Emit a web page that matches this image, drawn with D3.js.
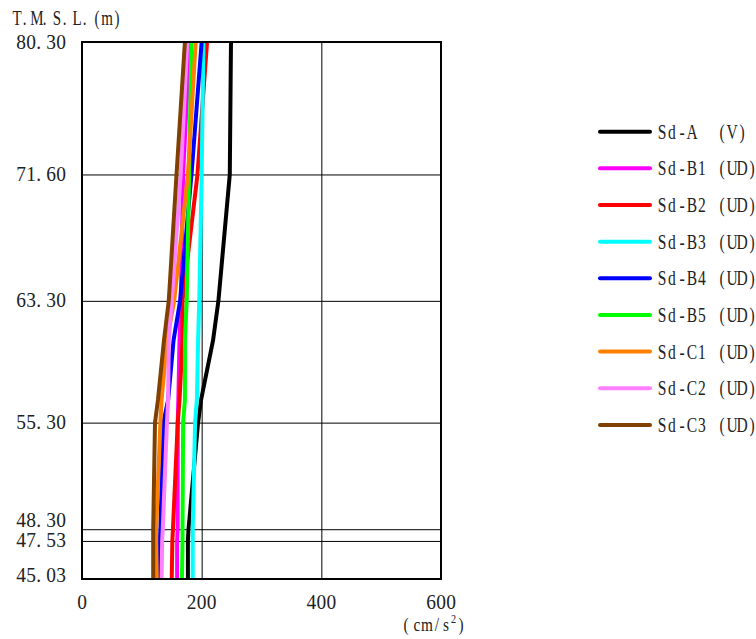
<!DOCTYPE html>
<html>
<head>
<meta charset="utf-8">
<script src="https://cdn.jsdelivr.net/npm/d3@7"></script>
<style>
  html, body { margin: 0; padding: 0; background: #fff; }
  svg { display: block; }
  text { white-space: pre; }
</style>
</head>
<body>
<svg id="chart" width="756" height="639"></svg>
<script>
// ---- data ----
const elevations = [80.30, 71.60, 63.30, 60.70, 56.80, 55.30, 48.30, 47.53, 45.03];
const sdA  = [249, 247, 228, 219, 199, 194, 178, 177, 177];
const sdB1 = [180, 169, 165, 163, 161, 160, 160, 159, 159];
const sdB2 = [209, 193, 168, 168, 163, 160, 152, 151, 150];
const sdB3 = [203, 200, 196, 194, 192, 189, 185, 185, 185];
const sdB4 = [200, 183, 164, 153, 144, 136, 131, 130, 130];
const sdB5 = [183, 179, 175, 172, 172, 169, 168, 168, 167];
const sdC1 = [190, 177, 154, 142, 133, 131, 124, 124, 125];
const sdC2 = [176, 165, 150, 145, 144, 142, 135, 134, 133];
const sdC3 = [172, 158, 145, 137, 127, 122, 119, 119, 119];

const seriesNames  = ["Sd-A", "Sd-B1", "Sd-B2", "Sd-B3", "Sd-B4", "Sd-B5", "Sd-C1", "Sd-C2", "Sd-C3"];
const seriesTags   = ["(V)", "(UD)", "(UD)", "(UD)", "(UD)", "(UD)", "(UD)", "(UD)", "(UD)"];
const seriesValues = [sdA, sdB1, sdB2, sdB3, sdB4, sdB5, sdC1, sdC2, sdC3];
const seriesColors = ["#000000", "#ff00ff", "#ff0000", "#00ffff", "#0000ff", "#00ff00", "#ff8000", "#ff80ff", "#804000"];

const yTicks = [80.30, 71.60, 63.30, 55.30, 48.30, 47.53, 45.03];
const yTickLabels = ["80.30", "71.60", "63.30", "55.30", "48.30", "47.53", "45.03"];
const xTicks = [0, 200, 400, 600];
const xTickLabels = ["0", "200", "400", "600"];
const yTitle = "T.M.S.L.(m)";

// ---- layout ----
const pLeft = 82, pRight = 441, pTop = 42, pBottom = 579;
const x = d3.scaleLinear().domain([0, 600]).range([pLeft, pRight]);
const y = d3.scaleLinear().domain([45.03, 80.30]).range([pBottom, pTop]);

const svg = d3.select("#chart");
const FONT = "'Liberation Serif', 'DejaVu Serif', serif";
const TEXT_COLOR = "#222";

// monospace-cell text helper (half-width Mincho look)
function cellText(parent, str, x0, baseline, sx, cell, size) {
  cell = cell || 10; size = size || 20;
  const chars = Array.from(str);
  const xs = chars.map((ch, i) => ((x0 + cell * i + (ch === "." ? 2.6 : cell / 2)) / sx).toFixed(2));
  return parent.append("text")
    .attr("transform", `translate(0,${baseline}) scale(${sx},1)`)
    .attr("x", xs.join(" "))
    .attr("y", 0)
    .attr("text-anchor", "middle")
    .attr("xml:space", "preserve")
    .style("font-family", FONT)
    .style("font-size", size + "px")
    .style("fill", TEXT_COLOR)
    .text(str);
}

// ---- grid ----
const grid = svg.append("g");
grid.append("g")
  .attr("transform", `translate(${pLeft},0)`)
  .call(d3.axisLeft(y).tickValues(yTicks).tickSize(-(pRight - pLeft)).tickFormat(""))
  .call(g => g.select(".domain").remove())
  .call(g => g.selectAll(".tick line").attr("stroke", "#000").attr("stroke-width", 1));
grid.append("g")
  .attr("transform", `translate(0,${pBottom})`)
  .call(d3.axisBottom(x).tickValues(xTicks.slice(1, -1)).tickSize(-(pBottom - pTop)).tickFormat(""))
  .call(g => g.select(".domain").remove())
  .call(g => g.selectAll(".tick line").attr("stroke", "#000").attr("stroke-width", 1));

// ---- series lines ----
const line = d3.line()
  .x(d => x(d.v))
  .y(d => y(d.e));

const linesG = svg.append("g");
seriesValues.forEach((vals, i) => {
  const pts = vals.map((v, k) => ({ v: v, e: elevations[k] }));
  linesG.append("path")
    .datum(pts)
    .attr("d", line)
    .attr("fill", "none")
    .attr("stroke", seriesColors[i])
    .attr("stroke-width", 4)
    .attr("stroke-linejoin", "round");
});

// ---- frame ----
svg.append("rect")
  .attr("x", pLeft).attr("y", pTop)
  .attr("width", pRight - pLeft).attr("height", pBottom - pTop)
  .attr("fill", "none").attr("stroke", "#000").attr("stroke-width", 2);

// ---- y labels ----
const yLabelShift = { "48.30": -9, "45.03": -3.5 };
yTicks.forEach((t, i) => {
  const lab = yTickLabels[i];
  const cy = y(t) + (yLabelShift[lab] || 0);
  cellText(svg, lab, 66 - lab.length * 10, cy + 6.5, 0.97);
});

// ---- x labels ----
xTicks.forEach((t, i) => {
  const lab = xTickLabels[i];
  cellText(svg, lab, x(t) - lab.length * 5, 609, 0.97);
});

// ---- y title ----
cellText(svg, yTitle, 12, 24.5, 0.75);

// ---- unit ----
const unit = svg.append("text")
  .attr("text-anchor", "middle")
  .style("font-family", FONT)
  .style("font-size", "18px")
  .style("fill", TEXT_COLOR);
const sxU = 0.85;
unit.attr("transform", `translate(0,631) scale(${sxU},1)`);
unit.append("tspan").attr("x", [406, 417, 427, 437, 446].map(v => (v / sxU).toFixed(2)).join(" ")).attr("y", 0).text("(cm/s");
unit.append("tspan").attr("x", (453.5 / sxU).toFixed(2)).attr("y", -8).style("font-size", "12px").text("2");
unit.append("tspan").attr("x", (461 / sxU).toFixed(2)).attr("y", 0).text(")");

// ---- legend ----
const legend = svg.append("g");
seriesNames.forEach((name, i) => {
  const cy = 131.7 + i * 36.65;
  legend.append("line")
    .attr("x1", 600).attr("x2", 650)
    .attr("y1", cy).attr("y2", cy)
    .attr("stroke", seriesColors[i])
    .attr("stroke-width", 4)
    .attr("stroke-linecap", "round");
  const label = name.padEnd(6, " ") + seriesTags[i];
  cellText(legend, label, 657, cy + 7, 0.74, 10, 21);
});
</script>
</body>
</html>
